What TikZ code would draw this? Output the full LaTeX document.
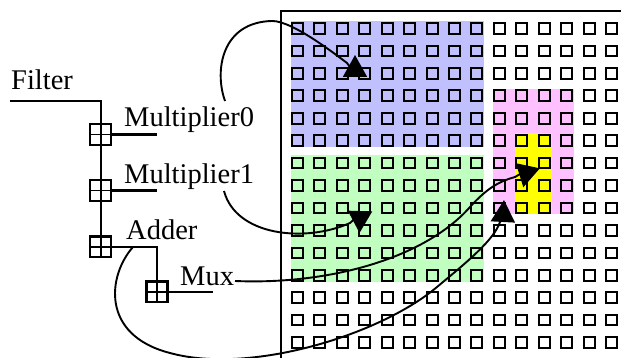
\documentclass[tikz,border=0pt]{standalone}
\usepackage{fontspec}
\setmainfont{Liberation Serif}
\usepackage{tikz}
\usetikzlibrary{arrows.meta}
\definecolor{blkblue}{RGB}{192,192,255}
\definecolor{blkgreen}{RGB}{192,255,192}
\definecolor{blkpink}{RGB}{255,192,255}
\definecolor{blkyellow}{RGB}{255,255,0}

\begin{document}
\begin{tikzpicture}[x=1pt,y=-1pt,
  wire/.style={line width=2.2pt},
  plusbox/.style={draw,line width=2.2pt,minimum width=21pt,minimum height=20.5pt,inner sep=0pt,
    path picture={\draw[line width=1.8pt] (path picture bounding box.north) -- (path picture bounding box.south)
      (path picture bounding box.west) -- (path picture bounding box.east);}},
  lbl/.style={inner sep=0pt,font=\fontsize{28.5}{30}\selectfont},
  cellbox/.style={draw,line width=2pt},
  flow/.style={-{Triangle[length=22pt,width=24pt]},line width=1.9pt,line join=round}
]
\useasboundingbox (0,0) rectangle (621,358);
\clip (0,0) rectangle (621,358);

% memory blocks
\fill[blkblue] (290.5,21.5) rectangle (484,147.5);
\fill[blkgreen] (290.5,155.5) rectangle (484,281.5);
\fill[blkpink] (492.5,89) rectangle (574,214);
\fill[blkyellow] (515,133.5) rectangle (551.5,214);

% cell grid
\foreach \i in {0,...,14}
  \foreach \j in {0,...,14}
    \draw[cellbox] ({292+22.43*\j},{23.2+22.43*\i}) rectangle ++(11,10.6);
\draw[wire] (281,11) rectangle (640,380);

% hierarchy
\node[lbl,anchor=base west] (filter) at (11,90) {Filter};
\node[lbl,anchor=base west] (mult0) at (124,127) {Multiplier0};
\node[lbl,anchor=base west] (mult1) at (124,184) {Multiplier1};
\node[lbl,anchor=base west] (adder) at (126,240) {Adder};
\node[lbl,anchor=base west] (mux) at (180,285) {Mux};

\node[plusbox] (pb0) at (100.8,134.5) {};
\node[plusbox] (pb1) at (100.8,190.5) {};
\node[plusbox] (pb2) at (100.8,246.7) {};
\node[plusbox] (pb3) at (157,291.7) {};

\coordinate (fin) at (10,100.7);
\coordinate (m0end) at (157.3,134.5);
\coordinate (m1end) at (157.3,190.5);
\coordinate (muxend) at (213.3,291.7);
\draw[wire] (fin) -| (pb0.north);
\draw[wire] (pb0.south) -- (pb1.north);
\draw[wire] (pb1.south) -- (pb2.north);
\draw[wire] (pb0.east) -- (m0end);
\draw[wire] (pb1.east) -- (m1end);
\draw[wire] (pb2.east) -| (pb3.north);
\draw[wire] (pb3.east) -- (muxend);

% mapping arrows
\coordinate (m0out) at (225,101);
\coordinate (m1out) at (224,191);
\coordinate (muxout) at (235,281);
\coordinate (addout) at (133,247);
\coordinate (tip0) at (355,55);
\coordinate (tip1) at (359.5,233);
\coordinate (tip2) at (523.3,187.3);
\coordinate (tip3) at (504,200);

\draw[flow] (m0out) .. controls (214,70) and (222,22) .. (272,21)
  .. controls (292,20.6) and (335,54) .. (347,63) -- (355,74) -- (tip0);
\draw[flow] (m1out) .. controls (236,236) and (305,243) .. (350,223) -- (360,214) -- (tip1);
\draw[flow] (muxout) .. controls (330,285) and (425,258) .. (470,207)
  .. controls (487,188) and (500,181) .. (515,177) -- (527,170) -- (tip2);
\draw[flow] (addout) .. controls (108,275) and (100,335) .. (170,353)
  .. controls (250,375) and (380,335) .. (437,287)
  .. controls (467,262) and (494,240) .. (500,222) -- (503,219) -- (tip3);
\end{tikzpicture}
\end{document}
